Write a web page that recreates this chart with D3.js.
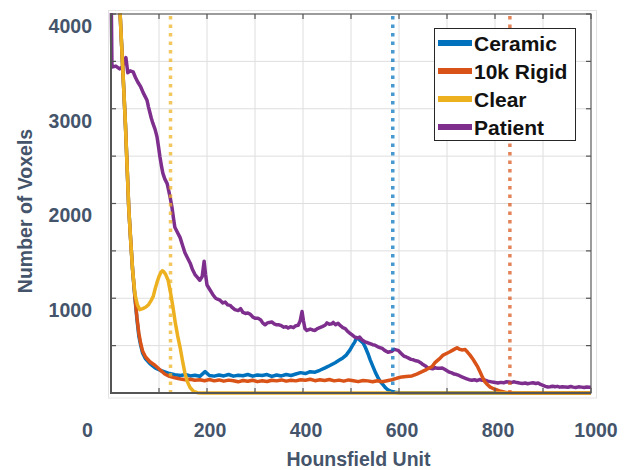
<!DOCTYPE html>
<html>
<head>
<meta charset="utf-8">
<script src="https://cdn.jsdelivr.net/npm/d3@7"></script>
<style>
  body { margin: 0; background: #fff; }
  text { font-family: "Liberation Sans", Arial, sans-serif; font-weight: bold; }
</style>
</head>
<body>
<div id="chart"></div>
<script>
// histogram data: [Hounsfield unit, number of voxels]
var ceramic = [[0,6000],[19,4000],[25,3370],[30,2840],[37,1950],[41,1610],[45,1300],[50,1000],[54,780],[58,600],[62,500],
  [66,420],[72,360],[81,310],[92,265],[102,240],[112,222],[122,205],[133,192],[145,185],[155,195],[165,180],[175,188],
  [185,176],[196,225],[205,185],[215,178],[225,190],[235,180],[245,195],[255,178],[265,188],[275,182],[285,195],
  [295,178],[305,190],[315,185],[325,195],[335,175],[345,190],[355,180],[365,195],[375,185],[385,200],[395,215],
  [405,205],[415,225],[425,220],[435,240],[446,265],[456,290],[467,320],[475,345],[483,370],[490,400],[498,455],
  [503,500],[508,540],[512,585],[515,575],[519,555],[525,530],[530,480],[535,420],[540,350],[546,275],[551,215],
  [556,165],[561,120],[567,85],[572,55],[577,32],[585,15],[592,8],[602,0],[1000,0]];

var rigid = [[0,6000],[19,4000],[25,3370],[30,2840],[37,1950],[41,1610],[45,1300],[50,1010],[54,800],[58,630],[62,520],
  [66,440],[72,380],[81,330],[92,290],[102,245],[112,200],[122,175],[133,160],[145,148],[155,140],[165,145],[175,135],
  [185,140],[195,130],[205,142],[215,128],[225,138],[235,125],[245,136],[255,130],[265,118],[275,132],[285,124],
  [295,135],[305,120],[315,130],[325,122],[335,135],[345,128],[355,138],[365,125],[375,135],[385,128],[395,140],
  [405,135],[415,145],[425,130],[435,140],[445,132],[455,142],[465,128],[475,136],[485,125],[495,138],[505,130],
  [515,120],[525,132],[535,128],[545,118],[555,130],[565,118],[575,130],[585,140],[595,155],[606,170],[615,175],
  [627,180],[637,200],[648,225],[658,250],[669,280],[675,320],[684,360],[692,400],[700,420],[706,435],[713,455],
  [721,478],[726,462],[731,455],[738,458],[743,430],[748,400],[753,365],[758,325],[764,275],[769,222],[774,165],
  [779,118],[785,85],[790,62],[797,45],[804,32],[812,18],[821,8],[830,0],[1000,0]];

var clear = [[0,6000],[19,4000],[25,3370],[30,2840],[37,1950],[41,1610],[45,1300],[50,1040],[55,930],[60,880],[66,890],
  [72,905],[78,930],[84,980],[88,1020],[92,1100],[96,1170],[100,1230],[104,1275],[107,1290],[110,1280],[114,1250],
  [119,1190],[124,1060],[129,910],[134,740],[139,600],[144,480],[149,340],[154,210],[159,120],[165,55],[172,18],
  [180,3],[190,0],[1000,0]];

var patient = [[0,4400],[2,3440],[10,3450],[18,3420],[23,3440],[28,3490],[31,3540],[35,3380],[40,3400],[46,3390],
  [51,3330],[56,3280],[62,3230],[67,3170],[72,3120],[75,3090],[78,3020],[81,2960],[84,2900],[87,2850],[92,2780],
  [96,2700],[99,2600],[102,2490],[105,2400],[108,2320],[112,2260],[117,2210],[120,2140],[123,2070],[127,1960],
  [130,1850],[133,1750],[138,1700],[144,1640],[149,1560],[154,1480],[160,1420],[165,1370],[170,1300],[175,1250],
  [180,1220],[185,1190],[190,1230],[194,1390],[197,1250],[200,1140],[206,1090],[212,1040],[218,1000],[222,990],
  [227,980],[233,950],[238,960],[243,930],[248,925],[253,900],[258,880],[265,870],[270,890],[275,850],[280,840],
  [285,845],[290,830],[296,800],[300,790],[306,790],[312,770],[316,740],[321,720],[326,740],[330,745],[335,750],
  [340,730],[345,720],[350,720],[355,710],[360,695],[365,700],[369,685],[374,700],[380,690],[385,710],[390,715],
  [394,760],[398,860],[401,760],[404,680],[408,660],[415,675],[420,665],[425,660],[430,680],[435,690],[440,700],
  [446,715],[450,740],[455,725],[460,730],[463,745],[468,720],[473,735],[478,710],[483,690],[488,680],[493,650],
  [498,630],[503,610],[508,590],[513,580],[518,590],[523,560],[529,540],[535,530],[540,520],[545,510],[550,505],
  [555,490],[560,480],[565,470],[570,450],[577,430],[585,440],[590,460],[598,450],[604,420],[610,390],[615,380],
  [619,370],[625,355],[630,350],[635,340],[640,335],[645,320],[650,300],[655,285],[660,265],[665,260],[670,255],
  [675,268],[680,260],[685,262],[690,264],[695,250],[700,235],[705,220],[710,212],[715,200],[720,195],[725,185],
  [731,170],[736,160],[741,150],[746,140],[752,135],[757,140],[762,130],[768,142],[773,135],[779,137],[785,125],
  [790,120],[795,115],[800,112],[806,105],[812,112],[818,108],[823,118],[829,115],[835,112],[840,118],[846,110],
  [851,105],[857,100],[863,106],[868,98],[874,104],[879,108],[885,100],[890,106],[895,90],[900,80],[905,70],
  [910,63],[915,66],[920,72],[925,66],[930,70],[935,62],[940,66],[946,63],[952,60],[958,68],[963,62],[968,58],
  [974,65],[980,62],[986,58],[991,64],[997,60],[1000,62]];

var seriesNames = ["Ceramic", "10k Rigid", "Clear", "Patient"];
var seriesColors = ["#0072BD", "#D95319", "#EDB120", "#7E2F8E"];
// dotted threshold lines (HU)
var thresholdHU = [587, 831, 124];
var thresholdColors = ["#0072BD", "#D95319", "#EDB120"];

var xTicks = [0, 200, 400, 600, 800, 1000];
var yTicks = [1000, 2000, 3000, 4000];

var svgWidth = 627;
var svgHeight = 470;
var margin = { top: 14, right: 36, bottom: 77, left: 111 };
var width = svgWidth - margin.left - margin.right;
var height = svgHeight - margin.top - margin.bottom;
var axisColor = "#44546A";

var svg = d3.select("#chart")
  .append("svg")
  .attr("width", svgWidth)
  .attr("height", svgHeight);

// faint frame of the pasted figure
svg.append("rect")
  .attr("x", 108.5).attr("y", 10.5)
  .attr("width", 488).attr("height", 387.5)
  .attr("fill", "#fff")
  .attr("stroke", "#e3e3e3");

var chartGroup = svg.append("g")
  .attr("transform", `translate(${margin.left}, ${margin.top})`);

var xScale = d3.scaleLinear().domain([0, 1000]).range([0, width]);
var yScale = d3.scaleLinear().domain([0, 4000]).range([height, 0]);

// grid
chartGroup.append("g")
  .selectAll("line")
  .data(d3.range(100, 1000, 100))
  .enter()
  .append("line")
  .attr("x1", d => xScale(d)).attr("x2", d => xScale(d))
  .attr("y1", 0).attr("y2", height)
  .attr("stroke", "#dedede");

chartGroup.append("g")
  .selectAll("line")
  .data(d3.range(500, 4000, 500))
  .enter()
  .append("line")
  .attr("y1", d => yScale(d)).attr("y2", d => yScale(d))
  .attr("x1", 0).attr("x2", width)
  .attr("stroke", "#dedede");

// data lines
chartGroup.append("clipPath")
  .attr("id", "plotClip")
  .append("rect")
  .attr("x", -2).attr("y", -1)
  .attr("width", width + 4).attr("height", height + 5);

var line = d3.line()
  .x(d => xScale(d[0]))
  .y(d => yScale(d[1]));

var allSeries = [ceramic, rigid, clear, patient];
var drawOrder = [0, 3, 1, 2];

drawOrder.forEach(function(i) {
  chartGroup.append("path")
    .datum(allSeries[i])
    .attr("clip-path", "url(#plotClip)")
    .attr("fill", "none")
    .attr("stroke", seriesColors[i])
    .attr("stroke-width", 3.5)
    .attr("stroke-linejoin", "round")
    .attr("d", line);
});

// dotted thresholds
chartGroup.selectAll(".thresh")
  .data(thresholdHU)
  .enter()
  .append("line")
  .attr("class", "thresh")
  .attr("x1", d => xScale(d)).attr("x2", d => xScale(d))
  .attr("y1", 2).attr("y2", height)
  .attr("stroke", (d, i) => thresholdColors[i])
  .attr("stroke-opacity", 0.72)
  .attr("stroke-width", 3.5)
  .attr("stroke-dasharray", "3.5,5");

// box and inner ticks
chartGroup.append("rect")
  .attr("width", width).attr("height", height)
  .attr("fill", "none")
  .attr("stroke", "#5a5a5a")
  .attr("stroke-width", 1.2);

chartGroup.append("path")
  .attr("d", `M0,0V${height}H${width}`)
  .attr("fill", "none")
  .attr("stroke", "#555")
  .attr("stroke-width", 2);

var xt = d3.range(0, 1001, 100);
var yt = d3.range(0, 4001, 500);
var tickLen = 5;
var tickG = chartGroup.append("g").attr("stroke", "#555").attr("stroke-width", 1.2);
xt.forEach(function(v) {
  tickG.append("line").attr("x1", xScale(v)).attr("x2", xScale(v)).attr("y1", height).attr("y2", height - tickLen);
  tickG.append("line").attr("x1", xScale(v)).attr("x2", xScale(v)).attr("y1", 0).attr("y2", tickLen);
});
yt.forEach(function(v) {
  tickG.append("line").attr("y1", yScale(v)).attr("y2", yScale(v)).attr("x1", 0).attr("x2", tickLen);
  tickG.append("line").attr("y1", yScale(v)).attr("y2", yScale(v)).attr("x1", width).attr("x2", width - tickLen);
});

// tick labels
var bottomAxis = d3.axisBottom(xScale).tickValues(xTicks).tickFormat(d3.format("d")).tickSize(0).tickPadding(30);
var leftAxis = d3.axisLeft(yScale).tickValues(yTicks).tickFormat(d3.format("d")).tickSize(0).tickPadding(19);

var xAxisG = chartGroup.append("g")
  .attr("transform", `translate(0, ${height})`)
  .call(bottomAxis);
xAxisG.select(".domain").remove();
xAxisG.selectAll("text")
  .attr("fill", axisColor)
  .attr("font-size", 19.5)
  .attr("font-family", null)
  .attr("dx", d => d === 0 ? -24 : (d === 1000 ? 4.5 : 2.5));

var yAxisG = chartGroup.append("g")
  .attr("transform", "translate(0, 12)")
  .call(leftAxis);
yAxisG.select(".domain").remove();
yAxisG.selectAll("text")
  .attr("fill", axisColor)
  .attr("font-size", 19.5)
  .attr("font-family", null);

// axis titles
svg.append("text")
  .attr("transform", "translate(32, 211) rotate(-90)")
  .attr("text-anchor", "middle")
  .attr("font-size", 19.5)
  .attr("fill", axisColor)
  .text("Number of Voxels");

svg.append("text")
  .attr("x", 358.5)
  .attr("y", 466)
  .attr("text-anchor", "middle")
  .attr("font-size", 19.5)
  .attr("fill", axisColor)
  .text("Hounsfield Unit");

// legend
var legend = svg.append("g");
legend.append("rect")
  .attr("x", 434.5).attr("y", 28.5)
  .attr("width", 141).attr("height", 112)
  .attr("fill", "#fff")
  .attr("stroke", "#262626");

var legendY = [43, 71, 99, 127];
seriesNames.forEach(function(name, i) {
  legend.append("line")
    .attr("x1", 438).attr("x2", 472)
    .attr("y1", legendY[i]).attr("y2", legendY[i])
    .attr("stroke", seriesColors[i])
    .attr("stroke-width", 6);
  legend.append("text")
    .attr("x", 474)
    .attr("y", legendY[i])
    .attr("dy", "0.36em")
    .attr("font-size", 21)
    .attr("fill", "#111")
    .text(name);
});
</script>
</body>
</html>
